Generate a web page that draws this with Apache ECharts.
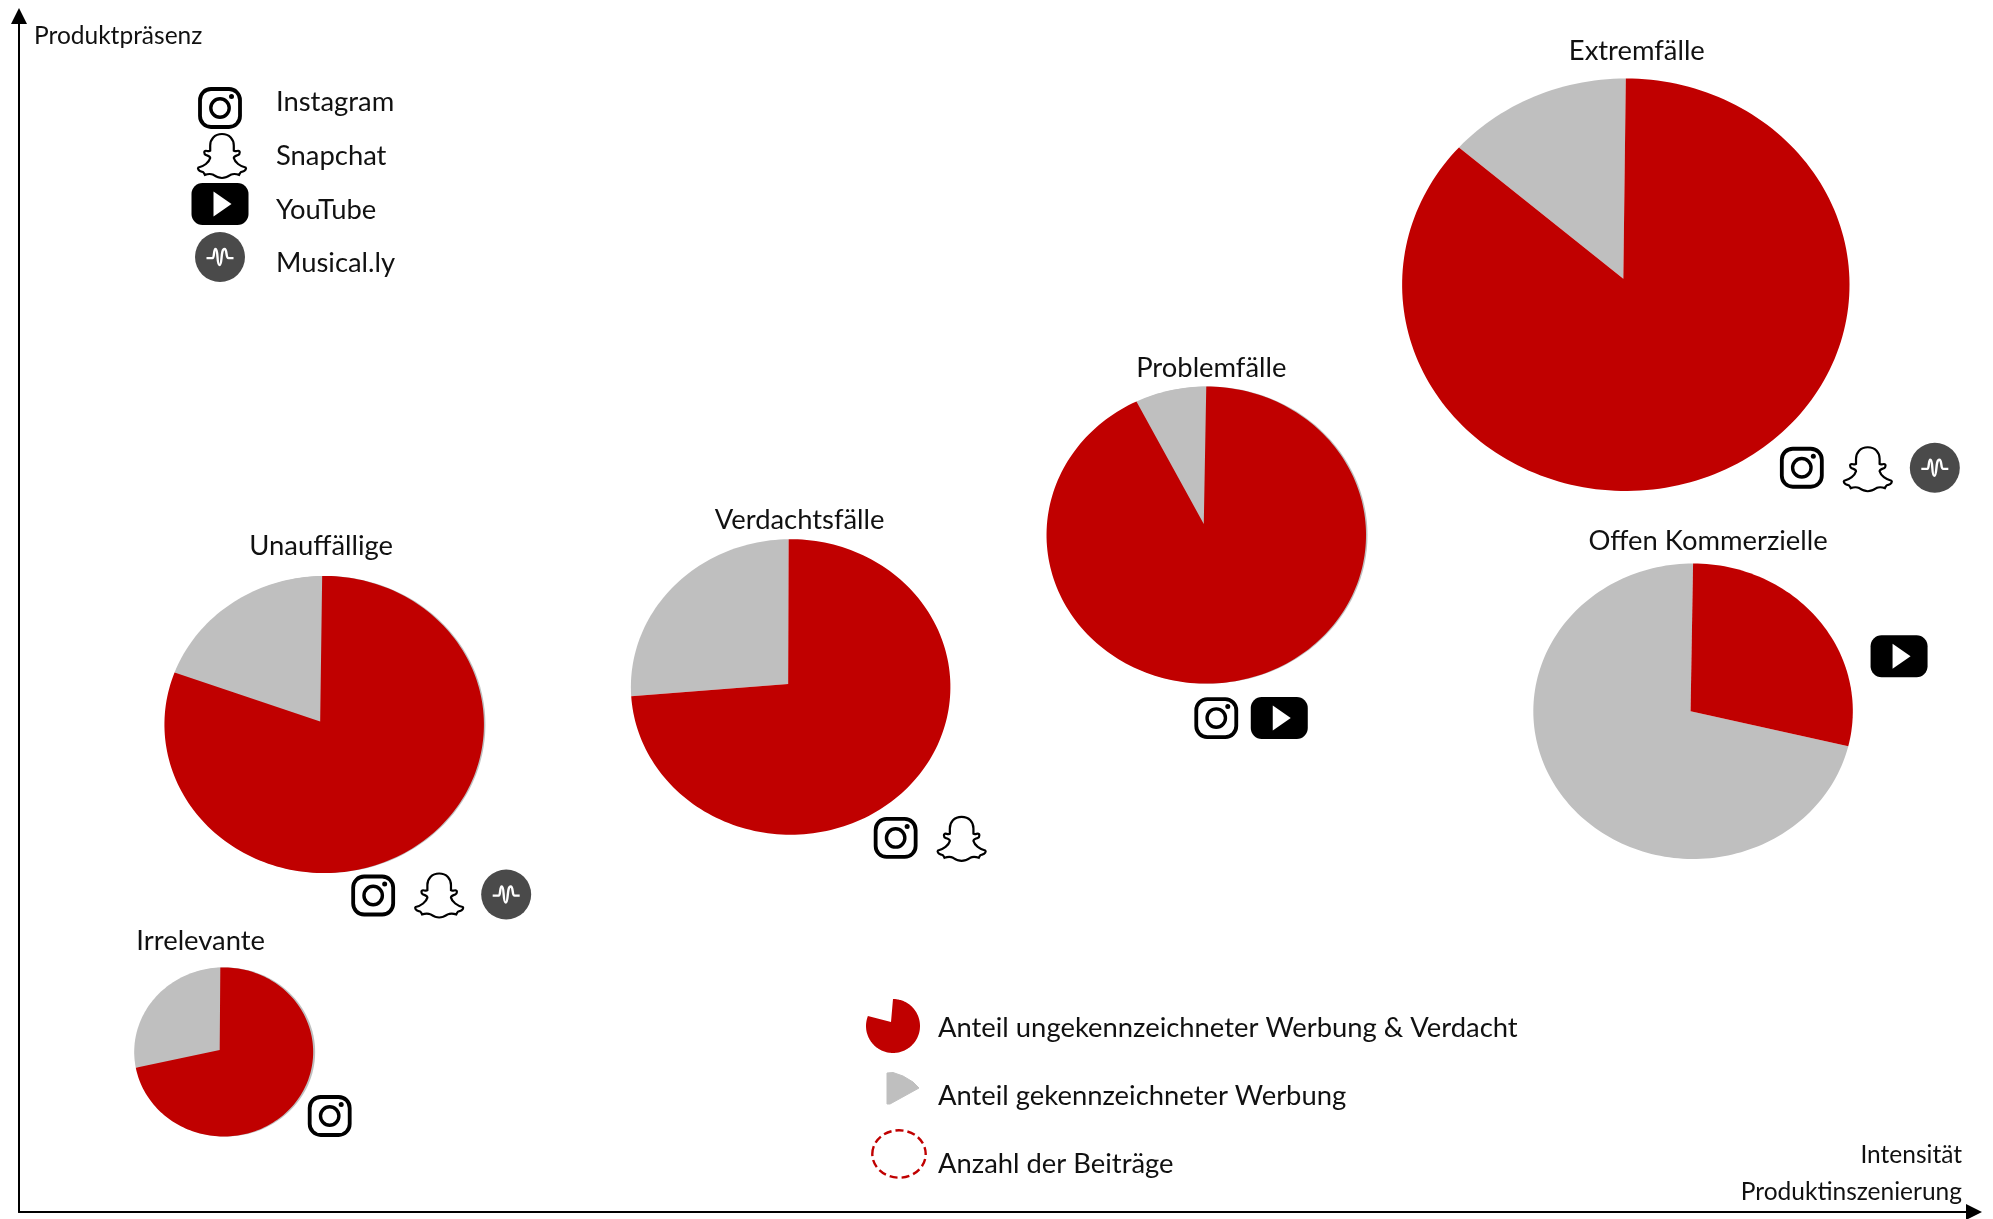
<!DOCTYPE html>
<html lang="de">
<head>
<meta charset="utf-8">
<title>Produktpräsenz und Intensität der Produktinszenierung</title>
<style>html,body{margin:0;padding:0;background:#fff}#chart{width:1993px;height:1219px}</style>
<script src="https://cdn.jsdelivr.net/npm/echarts@6/dist/echarts.min.js"></script>
</head>
<body>
<div id="chart"></div>
<script>
// Typen von Influencern: Lage im Achsenkreuz, Beitragszahl und Werbeanteil
const categories = ['Extremfälle', 'Problemfälle', 'Verdachtsfälle', 'Unauffällige', 'Offen Kommerzielle', 'Irrelevante'];
const intensity = [82.19, 60.73, 39.47, 15.61, 85.63, 10.47];
const presence = [77.53, 56.60, 43.90, 40.76, 41.87, 13.38];
const posts = [100, 51, 51, 51, 51, 16];
const unmarkedShare = [86.6, 92.8, 74.0, 80.7, 28.8, 72.0];
const platforms = [
  ['Instagram', 'Snapchat', 'Musical.ly'],
  ['Instagram', 'YouTube'],
  ['Instagram', 'Snapchat'],
  ['Instagram', 'Snapchat', 'Musical.ly'],
  ['YouTube'],
  ['Instagram']
];
const platformNames = ['Instagram', 'Snapchat', 'YouTube', 'Musical.ly'];
const legendLabels = ['Anteil ungekennzeichneter Werbung & Verdacht', 'Anteil gekennzeichneter Werbung', 'Anzahl der Beiträge'];

// Darstellung
const RED = '#C00000';
const GREY = '#BFBFBF';
const INK = '#111111';
const FONT = 'Lato, "Noto Sans", sans-serif';
const AXIS_FONT_SIZE = 24.5;
const LABEL_FONT_SIZE = 27.4;
const RADIUS_PER_ROOT_POST = 22.37;
const G_LEFT = 19, G_TOP = 16, G_W = 1955, G_H = 1196;

// Je Kreis: Stauchung, Drehung des Anfangs, Versatz der Sektorspitze, grauer Rand,
// Beschriftung und Plattformsymbole (Pixel relativ zur Kreismitte)
const flatten = [0.922, 0.93, 0.925, 0.93, 0.925, 0.945];
const startTurn = [0, 0, -0.002, -0.002, 0, -0.006];
const hubShift = [[-2.5, -6], [-2.5, -11], [-2.5, -3], [-4, -3], [-2.5, 0], [-4, -2]];
const rimShift = [0, 1.5, 0, 1.5, 0, 2];
const labelShift = [[11, -234], [5, -167], [9, -167], [-3, -178.5], [15, -170], [-23, -111]];
const iconShift = [
  [[176, 183], [242, 184.5], [309, 183]],
  [[10, 183], [73, 183]],
  [[105, 151], [171, 152]],
  [[49, 171], [115, 171], [182, 170]],
  [[206, -55]],
  [[106, 64]]
];

function pieParts(cx, cy, rx, ry, hx, hy, from, to) {
  const steps = Math.max(4, Math.ceil((to - from) * 220));
  const pts = [[hx, hy]];
  for (let i = 0; i <= steps; i++) {
    const t = (from + (to - from) * i / steps) * Math.PI * 2;
    pts.push([cx + rx * Math.sin(t), cy - ry * Math.cos(t)]);
  }
  return pts;
}

function iconShape(kind, x, y) {
  const at = { x: x, y: y };
  if (kind === 'Instagram') {
    return { type: 'group', ...at, children: [
      { type: 'rect', shape: { x: -20, y: -19, width: 40, height: 38, r: 11 }, style: { fill: 'none', stroke: '#000', lineWidth: 3.8 } },
      { type: 'circle', shape: { cx: 0, cy: 0, r: 9.2 }, style: { fill: 'none', stroke: '#000', lineWidth: 3.4 } },
      { type: 'circle', shape: { cx: 11.5, cy: -11.5, r: 2.5 }, style: { fill: '#000' } }
    ] };
  }
  if (kind === 'Snapchat') {
    return { type: 'path', ...at, shape: {
      pathData: 'M24 1C31 1 35 6 35 12L35 17C36 18 38 17 39 17C41 17 41 20 39 21C37 22 35 22 35 24C36 28 41 32 46 33C47 34 46 36 43 37C41 37 41 38 40 40C37 39 34 39 32 40C29 42 27 43 24 43C21 43 19 42 16 40C14 39 11 39 8 40C7 38 7 37 5 37C2 36 1 34 2 33C7 32 12 28 13 24C13 22 11 22 9 21C7 20 7 17 9 17C10 17 12 18 13 17L13 12C13 6 17 1 24 1Z',
      x: -24, y: -22, width: 48, height: 44, layout: 'cover'
    }, style: { fill: '#fff', stroke: '#000', lineWidth: 2.2 } };
  }
  if (kind === 'YouTube') {
    return { type: 'group', ...at, children: [
      { type: 'rect', shape: { x: -28.5, y: -21, width: 57, height: 42, r: 11 }, style: { fill: '#000' } },
      { type: 'polygon', shape: { points: [[-6.5, -12.5], [11.5, 0], [-6.5, 12.5]] }, style: { fill: '#fff' } }
    ] };
  }
  if (kind === 'Musical.ly') {
    return { type: 'group', ...at, children: [
      { type: 'circle', shape: { cx: 0, cy: 0, r: 25 }, style: { fill: '#4A4A4A' } },
      { type: 'path', shape: {
        pathData: 'M0 9L6 9C8 9 7 1 9 1C12 1 10 15 13 15C16 15 14 1 18 1C21 1 19 9 22 9L27 9',
        x: -13.5, y: -8, width: 27, height: 16, layout: 'cover'
      }, style: { fill: 'none', stroke: '#fff', lineWidth: 2.4 } }
    ] };
  }
  if (kind === 'legendRed') {
    return { type: 'polygon', ...at, shape: { points: pieParts(0, 0, 27, 27, -2, -4, 0, 0.81) }, style: { fill: RED } };
  }
  if (kind === 'legendGrey') {
    return { type: 'polygon', ...at, shape: { points: [[0, -15], [6, -15.5], [16, -12], [26, -6], [32, 0], [3, 16], [0, 16]] }, style: { fill: GREY, stroke: GREY, lineWidth: 1, lineJoin: 'round' } };
  }
  return { type: 'ellipse', ...at, shape: { cx: 0, cy: 0, rx: 26.7, ry: 23.7 }, style: { fill: 'none', stroke: RED, lineWidth: 2.4, lineDash: [8, 4] } };
}

const pieRows = categories.map((c, i) => [intensity[i], presence[i], posts[i], unmarkedShare[i], i]);

const iconRows = [];
platforms.forEach((list, i) => list.forEach((p, k) => {
  iconRows.push([intensity[i], presence[i], p, iconShift[i][k][0], iconShift[i][k][1]]);
}));
// Legendensymbole hängen an der oberen linken Ecke des Achsenkreuzes
const platformLegendSpots = [[201, 92], [203, 140], [201, 188], [201, 241]];
platformNames.forEach((p, k) => iconRows.push([0, 100, p, platformLegendSpots[k][0], platformLegendSpots[k][1]]));
[['legendRed', 874, 1010], ['legendGrey', 868, 1072], ['legendRing', 880, 1138]].forEach(r => iconRows.push([0, 100, r[0], r[1], r[2]]));

const chart = echarts.init(document.getElementById('chart'), null, { renderer: 'canvas' });

const axisArrow = { show: true, symbol: ['none', 'triangle'], symbolSize: [16, 16], lineStyle: { color: '#000', width: 2 } };

chart.setOption({
  animation: false,
  backgroundColor: '#fff',
  grid: { left: G_LEFT, top: G_TOP, width: G_W, height: G_H, containLabel: false },
  xAxis: {
    type: 'value', min: 0, max: 100, splitLine: { show: false }, axisTick: { show: false }, axisLabel: { show: false },
    axisLine: axisArrow,
    name: 'Intensität\nProduktinszenierung', nameLocation: 'end', nameGap: -12,
    nameTextStyle: { fontFamily: FONT, fontSize: AXIS_FONT_SIZE, color: INK, align: 'right', verticalAlign: 'bottom', lineHeight: 37, padding: [0, 0, 1, 0] }
  },
  yAxis: {
    type: 'value', min: 0, max: 100, splitLine: { show: false }, axisTick: { show: false }, axisLabel: { show: false },
    axisLine: axisArrow,
    name: 'Produktpräsenz', nameLocation: 'end', nameGap: -20,
    nameTextStyle: { fontFamily: FONT, fontSize: AXIS_FONT_SIZE, color: INK, align: 'left', verticalAlign: 'middle', padding: [0, 0, 0, 15] }
  },
  series: [
    {
      name: 'Anteile',
      type: 'custom',
      coordinateSystem: 'cartesian2d',
      clip: false,
      silent: true,
      encode: { x: 0, y: 1 },
      data: pieRows,
      renderItem(params, api) {
        const c = api.coord([api.value(0), api.value(1)]);
        const i = api.value(4);
        const rx = RADIUS_PER_ROOT_POST * Math.sqrt(api.value(2));
        const ry = rx * flatten[i];
        const split = api.value(3) / 100;
        const start = startTurn[i];
        const hx = c[0] + hubShift[i][0], hy = c[1] + hubShift[i][1];
        const parts = [
          { type: 'polygon', shape: { points: pieParts(c[0], c[1], rx, ry, hx, hy, split, 1 + start) }, style: { fill: GREY } },
          { type: 'polygon', shape: { points: pieParts(c[0], c[1], rx, ry, hx, hy, start, split) }, style: { fill: RED } },
          { type: 'text', x: c[0] + labelShift[i][0], y: c[1] + labelShift[i][1], style: {
            text: categories[i], fontFamily: FONT, fontSize: LABEL_FONT_SIZE, fill: INK, align: 'center', verticalAlign: 'middle'
          } }
        ];
        if (rimShift[i]) {
          parts.unshift({ type: 'ellipse', shape: { cx: c[0] + rimShift[i], cy: c[1], rx: rx, ry: ry }, style: { fill: GREY } });
        }
        return { type: 'group', children: parts };
      }
    },
    {
      name: 'Plattformen',
      type: 'custom',
      coordinateSystem: 'cartesian2d',
      clip: false,
      silent: true,
      encode: { x: 0, y: 1 },
      dimensions: ['x', 'y', { name: 'icon', type: 'ordinal' }, 'dx', 'dy'],
      data: iconRows,
      renderItem(params, api) {
        const c = api.coord([api.value(0), api.value(1)]);
        const row = iconRows[params.dataIndex];
        return iconShape(row[2], c[0] + row[3], c[1] + row[4]);
      }
    }
  ],
  graphic: { elements: [
    ...platformNames.map((t, k) => ({ type: 'text', left: 276, top: [103, 157, 211, 264][k] - 14, style: { text: t, fontFamily: FONT, fontSize: LABEL_FONT_SIZE, fill: INK } })),
    ...legendLabels.map((t, k) => ({ type: 'text', left: 938, top: [1029, 1097, 1165][k] - 14, style: { text: t, fontFamily: FONT, fontSize: LABEL_FONT_SIZE, fill: INK } }))
  ] }
});
</script>
</body>
</html>
